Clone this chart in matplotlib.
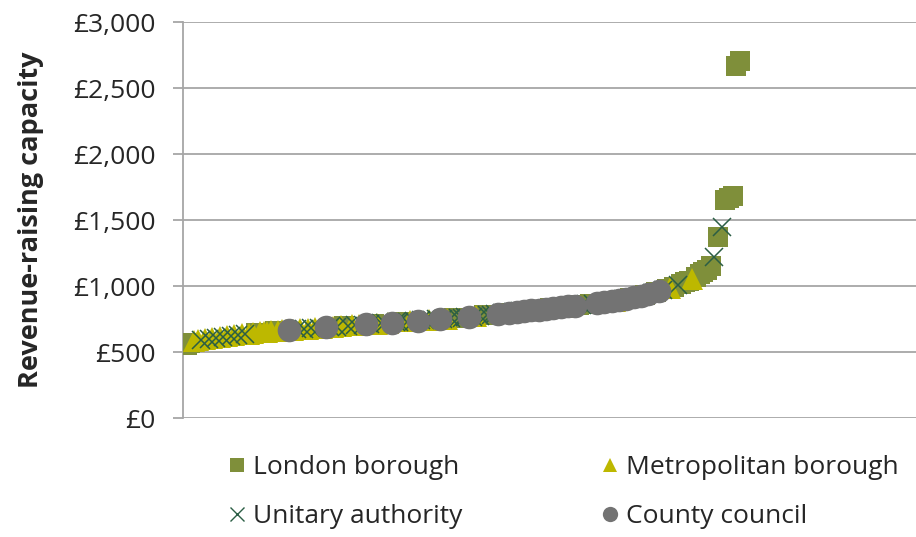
import matplotlib
matplotlib.use('Agg')
import matplotlib.pyplot as plt
from matplotlib.lines import Line2D
from matplotlib.ticker import FuncFormatter

plt.rcParams['font.family'] = ['Open Sans', 'DejaVu Sans']

# rank (x) and revenue-raising capacity (y) per council type
london_rank = [1, 2, 20, 25, 44, 52, 60, 74, 82, 88, 100, 108, 111, 116, 122, 126, 129,
               132, 134, 136, 137, 138, 140, 141, 142, 143, 144, 146, 148, 149, 150, 151, 152]
london_val = [556, 566, 645, 658, 697, 713, 729, 757, 777, 795, 831, 855, 864, 882, 908, 930, 952,
              977, 996, 1017, 1028, 1040, 1067, 1090, 1105, 1125, 1150, 1370, 1650, 1665, 1680, 2665, 2705]

met_rank = [3, 4, 6, 8, 10, 12, 14, 16, 18, 19, 21, 22, 23, 24, 26, 27, 28, 30, 32, 34,
            36, 38, 41, 43, 46, 48, 53, 56, 62, 67, 72, 80, 104, 118, 133, 139]
met_val = [580, 588, 597, 605, 613, 620, 627, 633, 639, 642, 648, 651, 653, 656, 661, 663, 665, 669, 673, 677,
           681, 685, 691, 695, 701, 705, 715, 721, 733, 743, 753, 771, 843, 890, 986, 1053]

unitary_rank = [5, 7, 9, 11, 13, 15, 17, 31, 33, 35, 37, 40, 42, 45, 47, 49, 51, 54, 55, 58,
                59, 61, 63, 65, 66, 68, 69, 71, 73, 75, 76, 77, 79, 81, 83, 84, 85, 87, 90, 92,
                94, 96, 98, 102, 106, 109, 110, 112, 114, 120, 124, 128, 131, 135, 145, 147]
unitary_val = [592, 601, 609, 617, 624, 630, 636, 671, 675, 679, 683, 689, 693, 699, 703, 707, 711, 717, 719, 725,
               727, 731, 735, 739, 741, 745, 747, 751, 755, 759, 761, 763, 768, 774, 780, 783, 786, 792, 801, 807,
               813, 819, 825, 837, 849, 858, 861, 867, 874, 898, 918, 944, 968, 1006, 1220, 1450]

county_rank = [29, 39, 50, 57, 64, 70, 78, 86, 89, 91, 93, 95, 97, 99, 101, 103, 105, 107,
               113, 115, 117, 119, 121, 123, 125, 127, 130]
county_val = [667, 687, 709, 723, 737, 749, 765, 789, 798, 804, 810, 816, 822, 828, 834, 840, 846, 852,
              870, 878, 886, 894, 903, 913, 924, 937, 960]

c_london = '#7F8F3A'
c_met = '#BDB800'
c_unitary = '#2B5E45'
c_county = '#737373'
grid_c = '#A6A6A6'

fig = plt.figure(figsize=(9.16, 5.37), dpi=100)
ax = fig.add_axes([0.1998, 0.2216, 0.8002, 0.7374])

ax.plot(london_rank, london_val, 's', color=c_london, markersize=15, markeredgewidth=0, zorder=3)
ax.plot(met_rank, met_val, '^', color=c_met, markersize=16, markeredgewidth=0, zorder=4)
ax.plot(unitary_rank, unitary_val, 'x', color=c_unitary, markersize=13, markeredgewidth=1.1, zorder=5)
ax.plot(county_rank, county_val, 'o', color=c_county, markersize=17, markeredgewidth=0, zorder=6)

ax.set_xlim(0, 200)
ax.set_ylim(0, 3000)
ax.set_yticks(range(0, 3001, 500))
ax.yaxis.set_major_formatter(FuncFormatter(lambda v, p: '£{:,.0f}'.format(v)))
ax.set_xticks([])
ax.grid(axis='y', color=grid_c, linewidth=1.3)
ax.set_axisbelow(True)
for s in ['top', 'right', 'bottom']:
    ax.spines[s].set_visible(False)
ax.spines['left'].set_color(grid_c)
ax.spines['left'].set_linewidth(1.3)
ax.tick_params(axis='y', colors=grid_c, labelcolor='#262626', labelsize=19, length=7, width=1.3, pad=13)
ax.set_ylabel('Revenue-raising capacity', fontsize=19.5, fontweight='bold', color='#262626', labelpad=21)

handles = [
    Line2D([], [], marker='s', color=c_london, linestyle='none', markersize=10, markeredgewidth=0),
    Line2D([], [], marker='x', color=c_unitary, linestyle='none', markersize=10, markeredgewidth=1),
    Line2D([], [], marker='^', color=c_met, linestyle='none', markersize=10, markeredgewidth=0),
    Line2D([], [], marker='o', color=c_county, linestyle='none', markersize=11, markeredgewidth=0),
]
labels = ['London borough', 'Unitary authority', 'Metropolitan borough', 'County council']
fig.legend(handles, labels, ncol=2, loc='center left', bbox_to_anchor=(0.2215, 0.084),
           frameon=False, fontsize=19, handlelength=0.8, handletextpad=0.2,
           columnspacing=5.2, labelspacing=0.9, labelcolor='#262626')

plt.savefig('out.png', dpi=100)
